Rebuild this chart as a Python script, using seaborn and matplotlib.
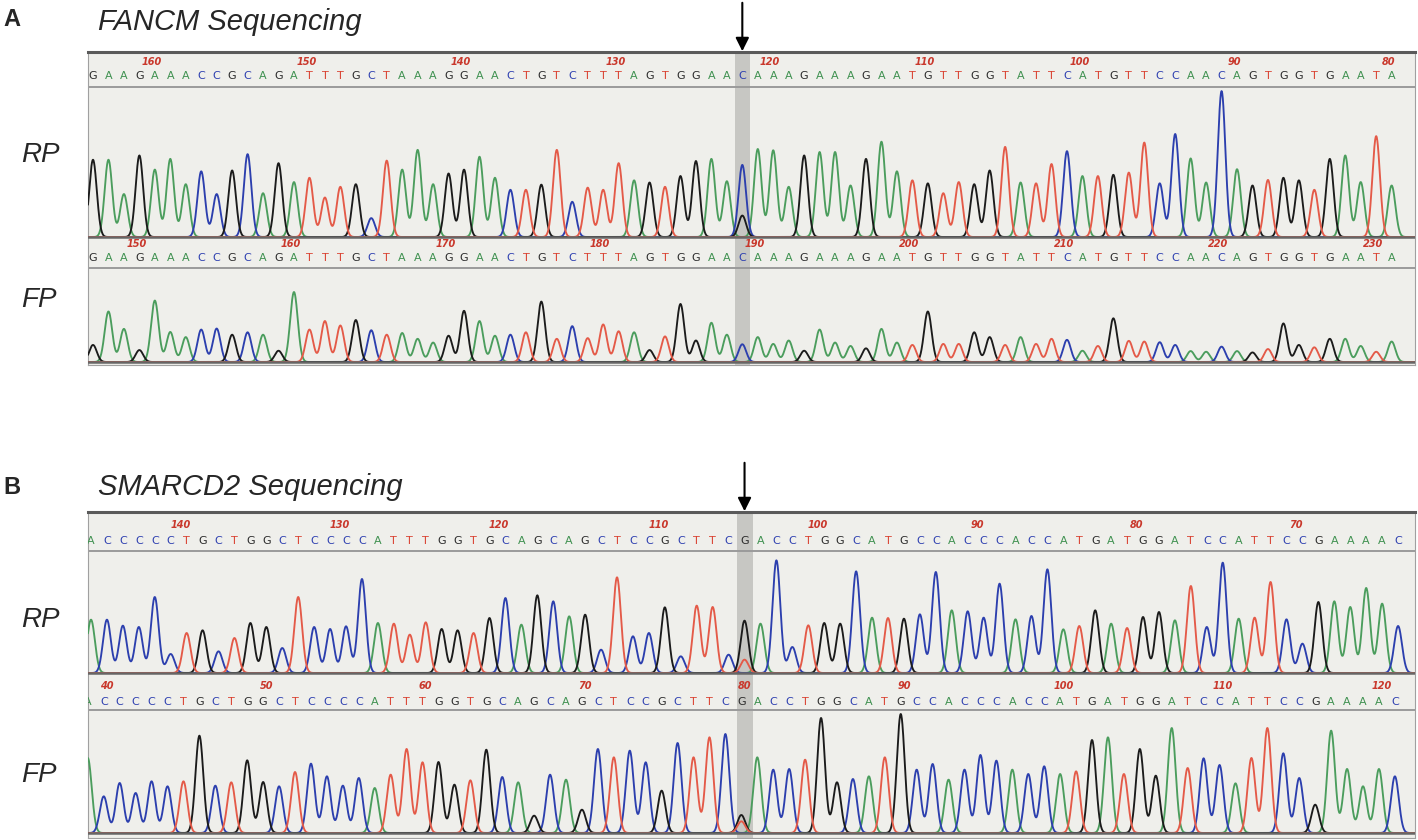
import numpy as np
import pandas as pd
import matplotlib
matplotlib.use("Agg")
import matplotlib.pyplot as plt
import seaborn as sns

# ---------------- data ----------------
FANCM_SEQ = ("GAAGAAACCGCAGATTTGCTAAAGGAACTGTCTTTAGTGGAA" "C"
             "AAAGAAAGAATGTTGGTATTCATGTTCCAACAGTGGTGAATA")
FANCM_RP_HEIGHTS = [180, 180, 100, 190, 157, 182, 123, 153, 100, 155,
                    193, 102, 172, 128, 138, 92, 117, 123, 44, 178,
                    157, 203, 123, 148, 157, 187, 138, 110, 110, 122,
                    203, 82, 115, 110, 172, 132, 127, 117, 142, 177,
                    182, 130, 168,
                    205, 202, 117, 190, 198, 198, 120, 182, 222, 153,
                    132, 125, 102, 128, 123, 155, 210, 127, 125, 170,
                    200, 142, 142, 145, 150, 220, 125, 240, 183, 127,
                    340, 158, 120, 133, 138, 132, 110, 182, 190, 128,
                    235, 120]
FANCM_FP_HEIGHTS = [50, 148, 97, 35, 180, 88, 73, 95, 98, 80,
                    87, 80, 33, 205, 95, 120, 107, 123, 93, 80,
                    85, 68, 57, 77, 150, 120, 77, 80, 87, 177,
                    68, 105, 70, 110, 90, 87, 35, 75, 170, 63,
                    115, 80, 52,
                    73, 53, 63, 33, 95, 57, 47, 40, 97, 57,
                    50, 148, 53, 53, 87, 73, 50, 73, 53, 68,
                    65, 33, 47, 128, 62, 60, 58, 50, 32, 30,
                    45, 32, 28, 38, 113, 50, 43, 68, 68, 47,
                    30, 60]
FANCM_RP_SECONDARY = [(43, "G", 50)]
FANCM_FP_SECONDARY = []
FANCM_MUT_BASE = 43
FANCM_RP_TICKS = [160, 150, 140, 130, 120, 110, 100, 90, 80]
FANCM_FP_TICKS = [150, 160, 170, 180, 190, 200, 210, 220, 230]

SMARCD2_SEQ = ("ACCCCCTGCTGGCTCCCCATTTGGTGCAGCAGCTCCGCTTC" "G"
               "ACCTGGCATGCCACCCACCATGATGGATCCATTCCGAAAAC")
SMARCD2_RP_HEIGHTS = [160, 160, 142, 138, 228, 57, 120, 128, 65, 105,
                      150, 138, 75, 228, 138, 132, 140, 282, 150, 148,
                      115, 152, 132, 128, 120, 165, 225, 145, 233, 215,
                      170, 175, 70, 287, 110, 120, 197, 50, 202, 198,
                      55, 157,
                      148, 338, 78, 143, 150, 148, 305, 166, 165, 163,
                      176, 303, 188, 185, 166, 268, 161, 171, 311, 131,
                      141, 188, 148, 135, 168, 183, 158, 261, 138, 331,
                      163, 166, 273, 161, 88, 213, 215, 198, 255, 208,
                      141]
SMARCD2_FP_HEIGHTS = [225, 110, 150, 120, 155, 140, 155, 292, 142, 152,
                      218, 153, 140, 183, 208, 170, 142, 165, 135, 175,
                      252, 212, 213, 145, 158, 250, 168, 152, 52, 175,
                      160, 70, 252, 227, 247, 212, 127, 270, 227, 287,
                      297, 54,
                      227, 190, 192, 220, 345, 152, 162, 170, 227, 357,
                      190, 207, 160, 190, 234, 217, 190, 177, 200, 177,
                      185, 279, 287, 177, 252, 172, 315, 195, 224, 204,
                      149, 225, 315, 239, 165, 85, 307, 192, 140, 192,
                      170]
SMARCD2_RP_SECONDARY = [(42, "T", 40)]
SMARCD2_FP_SECONDARY = [(42, "T", 35)]
SMARCD2_MUT_BASE = 42
SMARCD2_RP_TICKS = [140, 130, 120, 110, 100, 90, 80, 70]
SMARCD2_FP_TICKS = [40, 50, 60, 70, 80, 90, 100, 110, 120]

TRACE_COLORS = {"A": "#4b9d5d", "C": "#2c3fae", "G": "#1b1b1b", "T": "#e45a48"}
LETTER_COLORS = {"A": "#3f9150", "C": "#2d3fb0", "G": "#2a2a2a", "T": "#d9402f"}

# ---------------- figure ----------------
W, H = 1418, 840
sns.set_theme(style="white")
plt.rcParams["font.family"] = ["Liberation Sans", "DejaVu Sans"]
fig = plt.figure(figsize=(W / 100, H / 100), dpi=100, facecolor="white")


def px_axes(l, t, r, b):
    return fig.add_axes([l / W, 1 - b / H, (r - l) / W, (b - t) / H])


SIG = 0.245


def draw_trace(ax, seq, heights, secondary, shift, xlim):
    xs = np.linspace(xlim[0], xlim[1], 5000)
    for base, col in TRACE_COLORS.items():
        sig = np.zeros_like(xs)
        for i, (b, h) in enumerate(zip(seq, heights)):
            if b == base:
                sig += h * np.exp(-0.5 * ((xs - (i + 1 + shift)) / SIG) ** 2)
        for idx, b, h in secondary:
            if b == base:
                sig += h * np.exp(-0.5 * ((xs - (idx + shift)) / SIG) ** 2)
        df = pd.DataFrame({"pos": xs, "signal": sig})
        sns.lineplot(data=df, x="pos", y="signal", color=col, lw=1.35,
                     ax=ax, estimator=None, sort=False)
    ax.axhline(0, color="#666666", lw=1.8, zorder=10)


def make_panel(box, x0px, dxpx, fp_shift, seq, rp_h, fp_h, rp_sec, fp_sec,
               mut, rp_ticks, rp_pos, fp_ticks, fp_pos, rows, rp_scale,
               fp_scale):
    l, t, r, b = box
    xl = 1 + (l - x0px) / dxpx
    xr = 1 + (r - x0px) / dxpx
    bg = px_axes(l, t, r, b)
    bg.set_facecolor("#efefeb")
    bg.set_xlim(xl, xr)
    bg.set_ylim(b, t)
    bg.set_xticks([])
    bg.set_yticks([])
    for s in bg.spines.values():
        s.set_color("#a0a0a0")
        s.set_linewidth(0.8)
    bg.spines["top"].set_color("#5a5a5a")
    bg.spines["top"].set_linewidth(2.2)
    bg.axvspan(mut - 0.5, mut + 0.5, color="#c7c7c3", zorder=0, lw=0)

    # rulers
    for n in rp_ticks:
        bg.text(rp_pos(n), rows["rp_num"], str(n), color="#c9382c", fontsize=7,
                ha="center", va="center", style="italic", weight="bold",
                family="DejaVu Sans", clip_on=True)
    for n in fp_ticks:
        bg.text(fp_pos(n), rows["fp_num"], str(n), color="#c9382c", fontsize=7,
                ha="center", va="center", style="italic", weight="bold",
                family="DejaVu Sans", clip_on=True)
    for i, ch in enumerate(seq):
        bg.text(i + 1, rows["rp_let"], ch, color=LETTER_COLORS[ch], fontsize=8,
                ha="center", va="center", family="DejaVu Sans", clip_on=True)
        bg.text(i + 1 + fp_shift, rows["fp_let"], ch, color=LETTER_COLORS[ch],
                fontsize=8, ha="center", va="center", family="DejaVu Sans",
                clip_on=True)
    bg.axhline(rows["rp_line"], color="#9a9a9a", lw=1.4)
    bg.axhline(rows["fp_line"], color="#9a9a9a", lw=1.4)

    # traces
    ax1 = px_axes(l, rows["rp_top"], r, rows["rp_base"] + 2)
    ax1.set_xlim(xl, xr)
    ax1.set_ylim(-2 * rp_scale, (rows["rp_base"] - rows["rp_top"]) * rp_scale)
    draw_trace(ax1, seq, rp_h, rp_sec, 0.0, (xl, xr))
    ax2 = px_axes(l, rows["fp_top"], r, rows["fp_base"] + 3)
    ax2.set_xlim(xl, xr)
    ax2.set_ylim(-3 * fp_scale, (rows["fp_base"] - rows["fp_top"]) * fp_scale)
    draw_trace(ax2, seq, fp_h, fp_sec, fp_shift, (xl, xr))
    for ax in (ax1, ax2):
        ax.set_facecolor("none")
        ax.axis("off")

    # arrow marking the variant
    bg.annotate("", xy=(mut, t + 2), xytext=(mut, t - 52), xycoords="data",
                arrowprops=dict(arrowstyle="-|>", color="black", lw=1.5,
                                mutation_scale=20), annotation_clip=False)
    return bg


make_panel((88, 52, 1415, 365), 93, 15.46, 0.0, FANCM_SEQ,
           FANCM_RP_HEIGHTS, FANCM_FP_HEIGHTS, FANCM_RP_SECONDARY,
           FANCM_FP_SECONDARY, FANCM_MUT_BASE,
           FANCM_RP_TICKS, lambda n: 165 - n - 0.2,
           FANCM_FP_TICKS, lambda n: n - 147 + 0.8,
           dict(rp_num=62, rp_let=76, rp_line=87, rp_top=88, rp_base=237,
                fp_num=244, fp_let=258, fp_line=268, fp_top=270, fp_base=362),
           2.33, 2.93)

make_panel((88, 512, 1415, 838), 91, 15.94, -0.2, SMARCD2_SEQ,
           SMARCD2_RP_HEIGHTS, SMARCD2_FP_HEIGHTS, SMARCD2_RP_SECONDARY,
           SMARCD2_FP_SECONDARY, SMARCD2_MUT_BASE,
           SMARCD2_RP_TICKS, lambda n: 147 - n - 0.4,
           SMARCD2_FP_TICKS, lambda n: n - 38,
           dict(rp_num=525, rp_let=541, rp_line=551, rp_top=552, rp_base=673,
                fp_num=686, fp_let=702, fp_line=710, fp_top=712, fp_base=833),
           3.0, 3.0)

# panel letters, titles and row labels
fig.text(3 / W, 1 - 20 / H, "A", fontsize=17, weight="bold", va="center")
fig.text(3 / W, 1 - 487 / H, "B", fontsize=17, weight="bold", va="center")
fig.text(98 / W, 1 - 22 / H, "FANCM Sequencing", fontsize=21, style="italic",
         va="center")
fig.text(98 / W, 1 - 487 / H, "SMARCD2 Sequencing", fontsize=21,
         style="italic", va="center")
for y, lab in [(155, "RP"), (300, "FP"), (620, "RP"), (775, "FP")]:
    fig.text(21 / W, 1 - y / H, lab, fontsize=20, style="italic", va="center")

fig.savefig("out.png", dpi=100, facecolor="white")
